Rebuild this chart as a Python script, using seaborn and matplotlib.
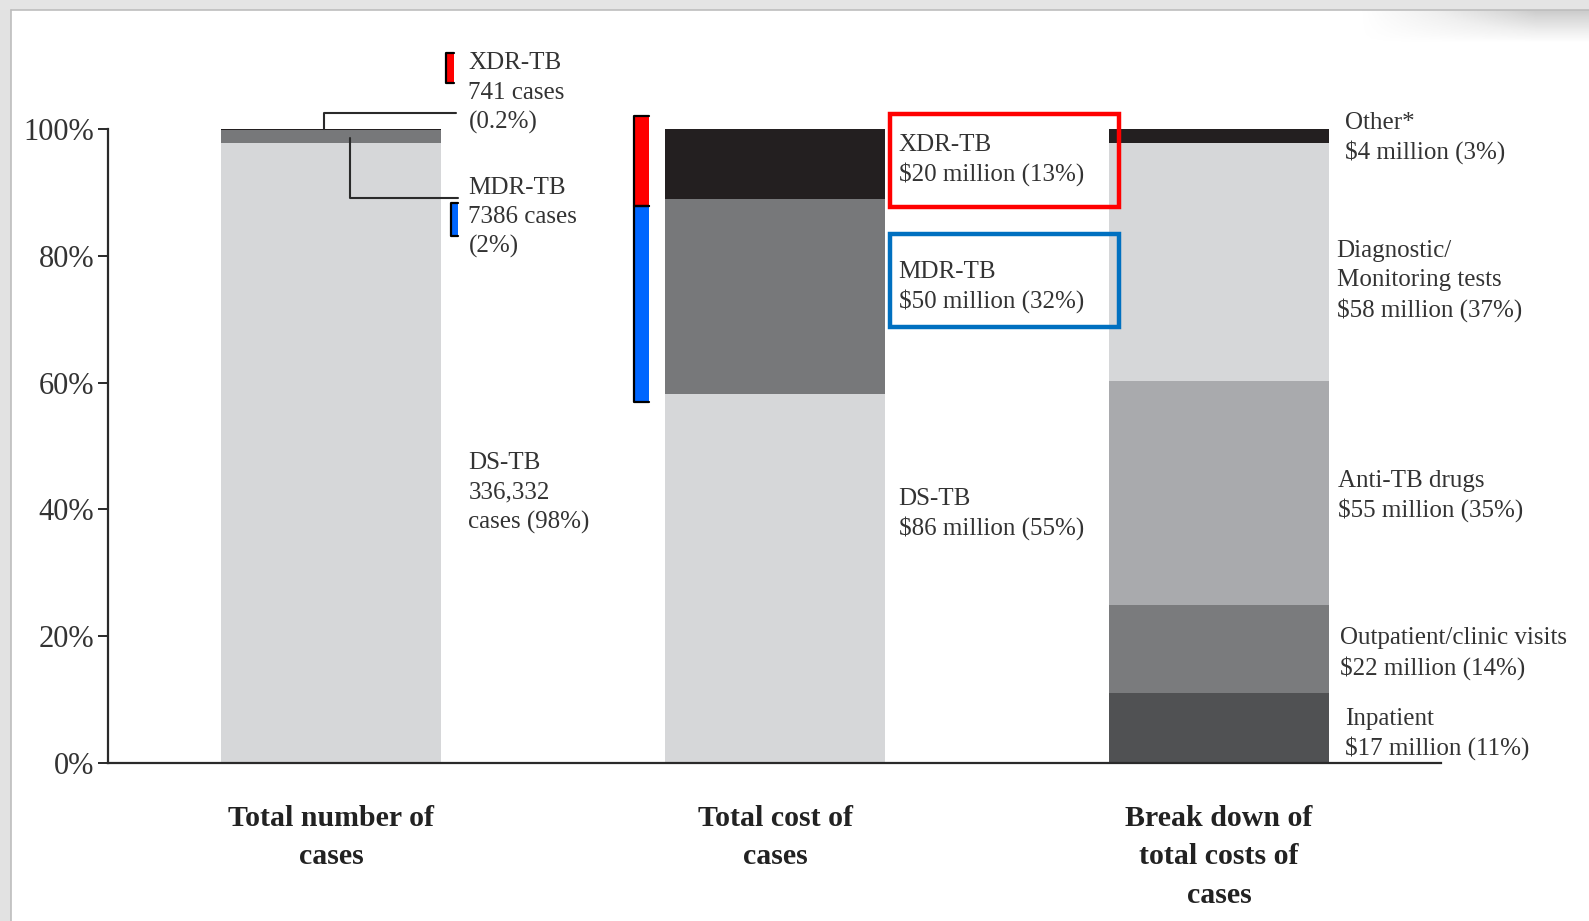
import numpy as np
import pandas as pd
import matplotlib
matplotlib.use("Agg")
import matplotlib.pyplot as plt
from matplotlib.patches import Rectangle
import seaborn as sns

# ---------------- data ----------------
categories = ["Total number of\ncases", "Total cost of\ncases", "Break down of\ntotal costs of\ncases"]

case_segments = ["DS-TB", "MDR-TB", "XDR-TB"]
case_pct = [97.8, 2.0, 0.2]

cost_segments = ["DS-TB", "MDR-TB", "XDR-TB"]
cost_pct = [58.2, 30.8, 11.0]

breakdown_segments = ["Inpatient", "Outpatient/clinic visits", "Anti-TB drugs",
                      "Diagnostic/Monitoring tests", "Other*"]
breakdown_pct = [11.0, 13.9, 35.3, 37.6, 2.2]

case_labels = [["XDR-TB", "741 cases", "(0.2%)"],
               ["MDR-TB", "7386 cases", "(2%)"],
               ["DS-TB", "336,332", "cases (98%)"]]
cost_labels = [["XDR-TB", "$20 million (13%)"],
               ["MDR-TB", "$50 million (32%)"],
               ["DS-TB", "$86 million (55%)"]]
breakdown_labels = [["Other*", "$4 million (3%)"],
                    ["Diagnostic/", "Monitoring tests", "$58 million (37%)"],
                    ["Anti-TB drugs", "$55 million (35%)"],
                    ["Outpatient/clinic visits", "$22 million (14%)"],
                    ["Inpatient", "$17 million (11%)"]]
y_ticks = [0, 20, 40, 60, 80, 100]

# ---------------- style ----------------
sns.set_theme(style="white")
plt.rcParams["font.family"] = ["Liberation Serif", "DejaVu Serif"]
TXT = "#333333"
LIGHT = "#d6d7d9"
MID = "#77787a"
DARK = "#231f20"
case_colors = [LIGHT, MID, DARK]
cost_colors = [LIGHT, MID, DARK]
breakdown_colors = ["#505153", "#7a7b7d", "#a9aaad", LIGHT, DARK]

W, H = 1589, 921
fig = plt.figure(figsize=(W / 100, H / 100), dpi=100)
fig.patch.set_facecolor("white")

# screenshot frame decoration
fig.patches.append(Rectangle((0, 0), 11 / W, 1, transform=fig.transFigure,
                             facecolor="#e2e2e2", edgecolor="none", zorder=0))
fig.patches.append(Rectangle((0, 1 - 10 / H), 1, 10 / H, transform=fig.transFigure,
                             facecolor="#e4e4e4", edgecolor="none", zorder=0))
fig.add_artist(plt.Line2D([11 / W, 11 / W], [0, 1 - 10 / H], transform=fig.transFigure,
                          color="#bdbdbd", lw=1.2))
fig.add_artist(plt.Line2D([11 / W, 1], [1 - 10 / H, 1 - 10 / H], transform=fig.transFigure,
                          color="#bdbdbd", lw=1.2))
sh = fig.add_axes([1360 / W, 1 - 42 / H, 229 / W, 32 / H])
gx = np.linspace(0, 1, 200)[None, :]
gy = np.linspace(1, 0, 40)[:, None]
sh.imshow(np.clip(gx * 1.3, 0, 1) * gy ** 0.8, cmap="Greys", vmin=0, vmax=3.2,
          aspect="auto", extent=[0, 1, 0, 1])
sh.axis("off")

ax = fig.add_axes([108 / W, (H - 763) / H, (1441 - 108) / W, (763 - 129) / H])


def stacked(ax, idx, values, colors):
    cum = np.cumsum(values)
    for v, c in sorted(zip(cum, colors), key=lambda t: -t[0]):
        df = pd.DataFrame({"cat": [categories[idx]], "val": [v]})
        sns.barplot(data=df, x="cat", y="val", order=categories, color=c,
                    saturation=1, width=0.495, errorbar=None, linewidth=0, ax=ax)


stacked(ax, 0, case_pct, case_colors)
stacked(ax, 1, cost_pct, cost_colors)
stacked(ax, 2, breakdown_pct, breakdown_colors)

ax.set_xlim(-0.503, 2.50)
ax.set_ylim(0, 100)
ax.set_xlabel("")
ax.set_ylabel("")
for s in ["top", "right"]:
    ax.spines[s].set_visible(False)
for s in ["left", "bottom"]:
    ax.spines[s].set_color("#2a2a2a")
    ax.spines[s].set_linewidth(1.6)
ax.set_yticks(y_ticks)
ax.set_yticklabels([f"{t}%" for t in y_ticks], fontsize=22, color=TXT)
ax.tick_params(axis="y", direction="out", length=7, width=1.4, color="#2a2a2a", pad=3, left=True)
ax.set_xticks([0, 1, 2])
ax.set_xticklabels(categories, fontsize=21.5, fontweight="bold", color="#222222",
                   linespacing=1.55, va="top")
ax.tick_params(axis="x", length=0, pad=30)
ax.patch.set_alpha(0)

FS = 18
STEP = 4.65


def block(x, y0, lines, **kw):
    for k, line in enumerate(lines):
        ax.text(x, y0 - k * STEP, line, fontsize=FS, color=TXT, va="center",
                ha="left", clip_on=False, **kw)


# bar 1 labels
block(0.309, 110.4, case_labels[0])
block(0.309, 90.7, case_labels[1])
block(0.309, 47.3, case_labels[2])
# bar 2 labels
block(1.278, 97.5, cost_labels[0])
block(1.278, 77.5, cost_labels[1])
block(1.278, 41.7, cost_labels[2])
# bar 3 labels
block(2.283, 101.0, breakdown_labels[0])
block(2.265, 80.8, breakdown_labels[1])
block(2.269, 44.5, breakdown_labels[2])
block(2.272, 19.7, breakdown_labels[3])
block(2.283, 7.0, breakdown_labels[4])

# leader lines on bar 1
ax.plot([-0.016, -0.016, 0.282], [100, 102.6, 102.6], color="#2a2a2a", lw=1.5, clip_on=False)
ax.plot([0.043, 0.043, 0.286], [98.6, 89.1, 89.1], color="#2a2a2a", lw=1.5, clip_on=False)


def bracket(x0, x1, y0, y1, fc):
    ax.add_patch(Rectangle((x0, y0), x1 - x0, y1 - y0, facecolor=fc, edgecolor="none",
                           clip_on=False, zorder=5))
    ax.plot([x1, x0, x0, x1], [y1, y1, y0, y0], color="black", lw=1.6,
            clip_on=False, zorder=6, solid_joinstyle="round")


bracket(0.259, 0.277, 107.3, 112.0, "#ff0000")
bracket(0.270, 0.286, 83.2, 88.3, "#0066ff")
bracket(0.681, 0.716, 87.9, 102.1, "#ff0000")
bracket(0.681, 0.716, 57.0, 87.9, "#0066ff")

# highlight boxes
ax.add_patch(Rectangle((1.258, 87.7), 0.516, 14.7, facecolor="none", edgecolor="#ff0000",
                       lw=3.2, clip_on=False, zorder=6))
ax.add_patch(Rectangle((1.258, 68.7), 0.516, 14.7, facecolor="none", edgecolor="#0070c0",
                       lw=3.2, clip_on=False, zorder=6))

fig.savefig("out.png", dpi=100, facecolor=fig.get_facecolor())
